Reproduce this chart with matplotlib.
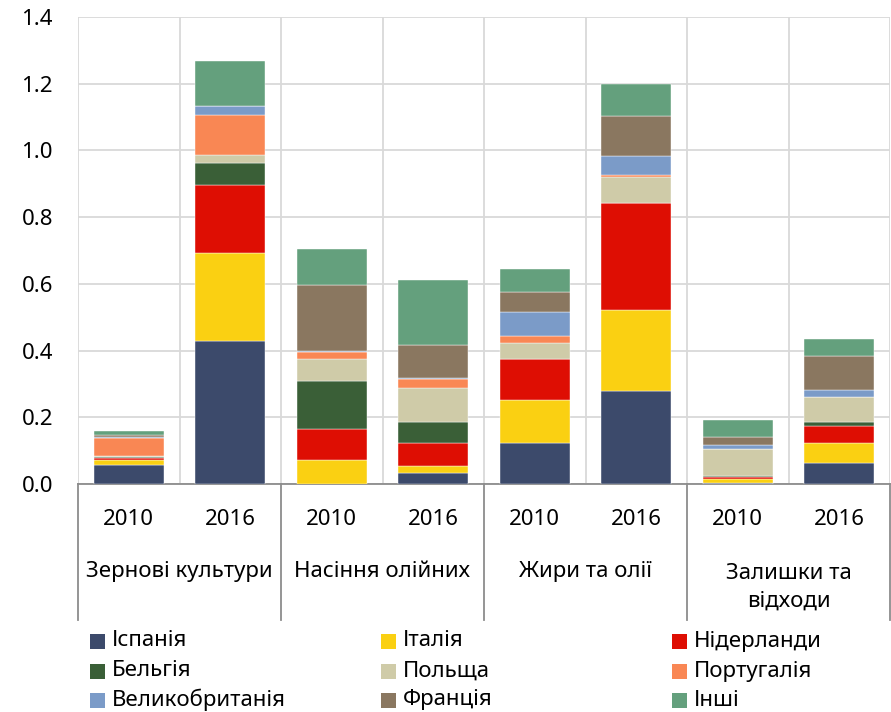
import numpy as np
import matplotlib
matplotlib.use('Agg')
import matplotlib.pyplot as plt
from matplotlib.patches import Rectangle

plt.rcParams['font.family'] = ['Noto Sans', 'DejaVu Sans']

years = ['2010', '2016', '2010', '2016', '2010', '2016', '2010', '2016']
groups = ['Зернові культури', 'Насіння олійних', 'Жири та олії', 'Залишки та\nвідходи']
countries = ['Іспанія', 'Італія', 'Нідерланди', 'Бельгія', 'Польща', 'Португалія',
             'Великобританія', 'Франція', 'Інші']
colors = ['#3C4A6B', '#FAD012', '#DE0E03', '#3A5F37', '#CFCBA8', '#F98754',
          '#7B9BC8', '#8A7760', '#64A07D']

# values per country, one per bar (8 bars)
spain = [0.057, 0.430, 0.000, 0.032, 0.122, 0.280, 0.002, 0.063]
italy = [0.015, 0.264, 0.071, 0.023, 0.129, 0.243, 0.013, 0.059]
netherlands = [0.007, 0.203, 0.095, 0.069, 0.123, 0.320, 0.006, 0.053]
belgium = [0.003, 0.064, 0.142, 0.062, 0.000, 0.000, 0.004, 0.010]
poland = [0.003, 0.026, 0.068, 0.101, 0.049, 0.077, 0.079, 0.075]
portugal = [0.052, 0.119, 0.021, 0.027, 0.021, 0.007, 0.000, 0.000]
uk = [0.004, 0.026, 0.003, 0.004, 0.072, 0.057, 0.014, 0.021]
france = [0.006, 0.000, 0.196, 0.099, 0.059, 0.120, 0.023, 0.102]
others = [0.011, 0.136, 0.108, 0.195, 0.070, 0.095, 0.052, 0.053]
series = [spain, italy, netherlands, belgium, poland, portugal, uk, france, others]

fs = 16

fig = plt.figure(figsize=(8.91, 7.12), dpi=100)
ax = fig.add_axes([78/891, 228/712, 812/891, 467/712])

x = np.arange(len(years))
bottom = np.zeros(len(years))
for vals, c in zip(series, colors):
    ax.bar(x, vals, 0.69, bottom=bottom, color=c, edgecolor='white', linewidth=0.3, zorder=3)
    bottom += np.array(vals)

ax.set_xlim(-0.5, 7.5)
ax.set_ylim(0, 1.4)
ax.set_yticks(np.arange(0, 1.41, 0.2))
ax.set_yticklabels([f'{v:.1f}' for v in np.arange(0, 1.41, 0.2)], fontsize=fs)
ax.tick_params(axis='y', length=0, pad=18)
ax.set_xticks([])
ax.grid(axis='y', color='#D9D9D9', lw=1.3, zorder=0)
for s in ['left', 'right', 'top']:
    ax.spines[s].set_visible(False)
ax.spines['bottom'].set_color('#8C8C8C')
ax.spines['bottom'].set_linewidth(1.3)

# vertical gridlines between bars
for xv in np.arange(-0.5, 8, 1):
    ax.axvline(xv, color='#D9D9D9', lw=1.3, zorder=0)

# group separators below axis
tr = ax.get_xaxis_transform()
for xv in [-0.5, 1.5, 3.5, 5.5, 7.5]:
    ax.plot([xv, xv], [0, -0.291], color='#8C8C8C', lw=1.3, transform=tr, clip_on=False)

for xi, yr in zip(x, years):
    ax.text(xi, -0.075, yr, transform=tr, ha='center', va='center', fontsize=fs)
for gi, g in enumerate(groups):
    ax.text(2 * gi + 0.5, -0.188 if '\n' not in g else -0.221, g, transform=tr,
            ha='center', va='center', fontsize=fs, linespacing=1.4)

# legend
col_x = [90, 381, 672]
row_y = [641, 671, 700]
for i, (name, c) in enumerate(zip(countries, colors)):
    cx = col_x[i % 3]
    cy = row_y[i // 3]
    fig.patches.append(Rectangle((cx / 891, (712 - cy - 7.5) / 712), 15 / 891, 15 / 712,
                                 transform=fig.transFigure, facecolor=c, edgecolor='none'))
    fig.text((cx + 22) / 891, (712 - cy) / 712, name, ha='left', va='center', fontsize=fs)

fig.savefig('out.png', dpi=100)
